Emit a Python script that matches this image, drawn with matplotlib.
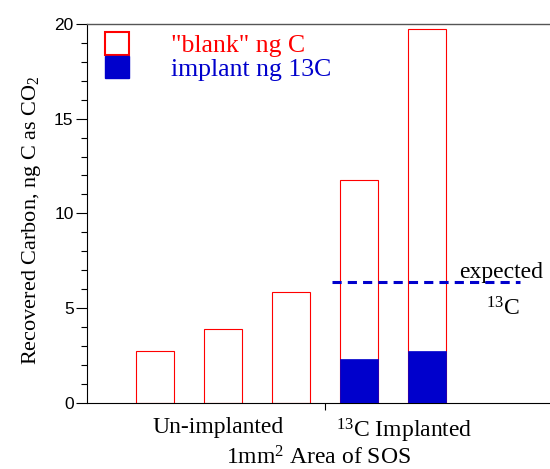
import matplotlib
matplotlib.use("Agg")
import matplotlib.pyplot as plt
from matplotlib.patches import Patch
from matplotlib.ticker import MultipleLocator

positions = [1, 2, 3, 4, 5]
total_c = [2.71, 3.89, 5.86, 11.75, 19.72]
implant_c = [0, 0, 0, 2.29, 2.73]
expected_13c = 6.36
expected_span = [3.61, 6.38]
group_labels = ["Un-implanted", r"$^{13}$C Implanted"]
group_label_x = [1.93, 4.67]
group_sep = 3.5

RED = "#FF0000"
BLUE = "#0000CC"
SERIF = ["Liberation Serif", "DejaVu Serif"]
SANS = ["Liberation Sans", "DejaVu Sans"]
plt.rcParams["mathtext.fontset"] = "custom"
plt.rcParams["mathtext.rm"] = "Liberation Serif"
plt.rcParams["mathtext.it"] = "Liberation Serif:italic"

fig = plt.figure(figsize=(5.5, 4.69), dpi=100)
ax = fig.add_axes([0.159, 0.1414, 0.841, 0.8074])

ax.bar(positions, total_c, width=0.56, facecolor="white", edgecolor=RED, linewidth=0.8, zorder=2)
ax.bar(positions, implant_c, width=0.56, facecolor=BLUE, edgecolor=BLUE, linewidth=0.5, zorder=3)
ax.hlines(expected_13c, expected_span[0], expected_span[1], colors=BLUE, linestyles=(0, (3, 2)), linewidth=2.2, zorder=4)

ax.set_xlim(0, 6.815)
ax.set_ylim(0, 20)
ax.yaxis.set_major_locator(MultipleLocator(5))
ax.yaxis.set_minor_locator(MultipleLocator(1))
ax.tick_params(axis="y", which="major", length=8, width=0.8, labelsize=12.5, pad=2)
ax.tick_params(axis="y", which="minor", length=4, width=0.8)
for lab in ax.get_yticklabels():
    lab.set_family(SANS)
ax.set_xticks([group_sep])
ax.set_xticklabels([""])
ax.tick_params(axis="x", which="major", length=5, width=0.8, direction="out")

ax.spines["right"].set_visible(False)
ax.spines["top"].set_color("#555555")
ax.spines["top"].set_linewidth(1.0)

for x, t in zip(group_label_x, group_labels):
    ax.text(x, -0.75, t, ha="center", va="top", fontsize=17, family=SERIF)
ax.text(3.4, -2.3, r"1mm$^2$ Area of SOS", ha="center", va="top", fontsize=17, family=SERIF)

ax.text(6.09, 6.6, "expected", ha="center", va="baseline", fontsize=17, family=SERIF)
ax.text(6.12, 4.6, r"$^{13}$C", ha="center", va="baseline", fontsize=17, family=SERIF)

ax.set_ylabel(r"Recovered Carbon, ng C as CO$_2$", fontsize=16, family=SERIF)
ax.yaxis.set_label_coords(-0.097, 0.483)

handles = [Patch(facecolor="white", edgecolor=RED, linewidth=1.5),
           Patch(facecolor=BLUE, edgecolor=BLUE)]
leg = ax.legend(handles, ['"blank" ng C', "implant ng 13C"], loc="upper left",
                bbox_to_anchor=(0.037, 0.978), frameon=False, prop={"family": SERIF, "size": 18.5},
                handlelength=0.97, handleheight=0.95, labelspacing=-0.05, handletextpad=1.6,
                borderaxespad=0.0, borderpad=0.0)
for txt, c in zip(leg.get_texts(), [RED, BLUE]):
    txt.set_color(c)

fig.savefig("out.png", dpi=100)
